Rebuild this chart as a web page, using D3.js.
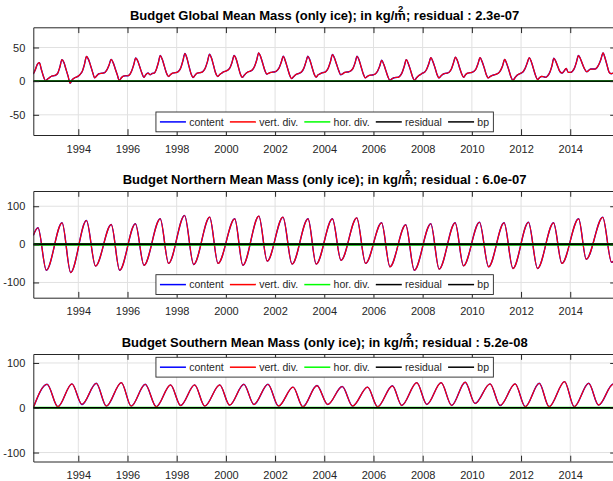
<!DOCTYPE html>
<html>
<head>
<meta charset="utf-8">
<script src="https://cdn.jsdelivr.net/npm/d3@7/dist/d3.min.js"></script>
<style>
  html, body { margin: 0; padding: 0; background: #fff; }
  svg { display: block; font-family: "Liberation Sans", Arial, Helvetica, sans-serif; }
</style>
</head>
<body>
<svg id="chart" width="613" height="481"></svg>
<script>
'use strict';

// ─── Data ─────────────────────────────────────────────────────────────────────
const xTicks  = [1994, 1996, 1998, 2000, 2002, 2004, 2006, 2008, 2010, 2012, 2014];
const xDomain = [1992.17, 2015.86];

const seriesNames  = ['content', 'vert. div.', 'hor. div.', 'residual', 'bp'];
const seriesColors = ['#0000ff', '#ff0000', '#00ff00', '#000000', '#000000'];

// Global mean mass, monthly from Mar 1992 (one row = Mar..Feb)
const globalStart = 1992.167;
const globalMass = [
  10.5, 17, 25, 27.5, 17, 7, 0.5, 3, 5.5, 7.5, 8, 9,
  12, 21, 32, 27.5, 17.5, 7.5, -3, 2, 4.5, 6, 7.5, 10.5,
  15, 25, 36.7, 32, 23, 13, 5, 8, 11, 11.5, 12, 13,
  17, 24, 32.4, 27.5, 18.5, 9.5, 1, 5, 7.5, 8, 8, 9.5,
  15, 24, 34.3, 30, 21, 12, 5.7, 10, 12, 9.5, 11.4, 12,
  17, 27, 38, 32, 22, 12, 7, 10, 12, 12.5, 13, 15,
  20, 30, 41, 34, 22, 11, 5.5, 9, 12, 12.5, 13, 15,
  20, 29, 40, 34, 23, 12, 7, 10, 12, 14, 15, 16.5,
  20, 28, 38, 33, 22, 11, 5.7, 9, 12, 14, 15, 17,
  22, 31, 42, 36, 26, 16, 10.5, 12, 13, 13.5, 14, 16,
  20, 28, 37, 30, 20, 10, 3.8, 6.5, 9.5, 11, 12, 14,
  19, 28, 37, 31, 21, 11, 6, 9.5, 11, 12.5, 13, 15,
  20, 29, 39.5, 34, 25, 16, 9.5, 11, 13, 13.5, 14, 15.5,
  19, 27, 37, 31, 21, 11, 4.8, 7, 8.6, 9, 9.5, 11,
  15, 22, 31, 25, 16, 7, 1, 3.5, 5, 5.5, 5.7, 8,
  13, 22, 32, 26, 17, 7, 1, 5, 8, 10, 12, 13.5,
  18, 26, 35, 29, 20, 10, 4.8, 8, 10.5, 11.5, 12, 13.5,
  18, 27, 35.7, 30, 20, 11, 5.7, 10, 12, 12.5, 13, 14.5,
  18, 26, 35, 29, 20, 10, 4.8, 7, 8.6, 9.5, 10.5, 12,
  16, 23, 32.4, 26, 17, 7, 1, 5, 8.6, 10.5, 12, 14,
  19, 27, 35, 29, 19, 9, 2.4, 5, 7, 6.5, 5.7, 8,
  13, 22, 34, 29, 21, 14, 12, 15, 19, 13, 13, 14.5,
  19, 28, 38, 33, 25, 18, 14, 16, 18, 18, 18, 20,
  25, 33, 42, 34, 23, 13, 11, 12, 12
];
const globalYears = globalMass.map((_, i) => globalStart + i / 12);

// Northern mean mass, turning points [year, value]
const northYears = [1992.17, 1992.36, 1992.70, 1993.34, 1993.69, 1994.33, 1994.70, 1995.34, 1995.68,
  1996.32, 1996.67, 1997.33, 1997.67, 1998.32, 1998.69, 1999.34, 1999.68, 2000.36, 2000.69,
  2001.34, 2001.68, 2002.32, 2002.69, 2003.34, 2003.67, 2004.33, 2004.68, 2005.32, 2005.68,
  2006.33, 2006.67, 2007.31, 2007.66, 2008.33, 2008.67, 2009.32, 2009.66, 2010.31, 2010.68,
  2011.31, 2011.67, 2012.30, 2012.67, 2013.32, 2013.66, 2014.34, 2014.65, 2015.32, 2015.68, 2015.86];
const northMass = [23.5, 43.5, -68, 56.5, -74, 62.6, -57, 52, -68,
  54, -55, 67, -50, 75.7, -53, 71.3, -50, 67, -55,
  74, -44, 71.3, -52, 67, -52, 67, -42, 69.6, -50,
  56.5, -59, 51.3, -68, 54, -65, 56.5, -56.5, 58, -59,
  56.5, -63.5, 58, -63.5, 56.5, -50, 67, -39, 71, -47, -35];

// Southern mean mass, turning points
const southYears = [1992.17, 1992.73, 1993.17, 1993.74, 1994.15, 1994.73, 1995.14, 1995.75, 1996.15,
  1996.72, 1997.17, 1997.75, 1998.16, 1998.73, 1999.14, 1999.75, 2000.15, 2000.73, 2001.14,
  2001.71, 2002.14, 2002.73, 2003.13, 2003.70, 2004.14, 2004.73, 2005.15, 2005.76, 2006.17,
  2006.77, 2007.15, 2007.76, 2008.17, 2008.75, 2009.18, 2009.73, 2010.13, 2010.74, 2011.15,
  2011.76, 2012.17, 2012.74, 2013.14, 2013.77, 2014.16, 2014.75, 2015.15, 2015.75, 2015.86];
const southMass = [0, 52.5, 2.2, 53.3, 7.3, 54.7, 3.6, 56.2, 3.6,
  52.5, 2.2, 51, 5, 51, 3.6, 51, 5.8, 52.5, 7.3,
  52.5, 3.6, 46, 2.2, 49.6, 7.3, 47.4, 3.6, 46, 2.2,
  49, 5, 56, 7.3, 56, 5, 57, 9.5, 53.3, 5,
  53.3, 2.2, 54.7, 2.2, 58.4, 2.2, 54.7, 5.8, 53, 50];

// hor. div., residual and bp stay on zero
const zeroYears = [1992.17, 2015.86];
const zeroMass  = [0, 0];

// ─── Layout ───────────────────────────────────────────────────────────────────
const plotLeft = 33.3, plotRight = 616;
const ink = '#262626', gridColor = '#e1e1e1';
const tickLen = 5.8;

const panels = [
  { name: 'Global',   resid: '2.3e-07', years: globalYears, mass: globalMass,
    yDomain: [-80, 80],   yTicks: [-50, 0, 50],   top: 27.3, bottom: 135,   legend: 'south', zeroW: [1.6, 1.1] },
  { name: 'Northern', resid: '6.0e-07', years: northYears,  mass: northMass,
    yDomain: [-140, 140], yTicks: [-100, 0, 100], top: 191,  bottom: 297.7, legend: 'south', zeroW: [2.8, 2] },
  { name: 'Southern', resid: '5.2e-08', years: southYears,  mass: southMass,
    yDomain: [-120, 120], yTicks: [-100, 0, 100], top: 354,  bottom: 461.5, legend: 'north', zeroW: [1.8, 1.3] },
];

const svg = d3.select('#chart');
const x = d3.scaleLinear().domain(xDomain).range([plotLeft, plotRight]);
const cxPlot = (plotLeft + plotRight) / 2;

// ─── Draw ─────────────────────────────────────────────────────────────────────
panels.forEach((p, i) => {
  const y = d3.scaleLinear().domain(p.yDomain).range([p.bottom, p.top]);
  const g = svg.append('g');

  const clipId = 'clip' + i;
  g.append('clipPath').attr('id', clipId).append('rect')
    .attr('x', plotLeft).attr('y', p.top)
    .attr('width', plotRight - plotLeft).attr('height', p.bottom - p.top);

  // grid
  g.append('g').selectAll('line').data(xTicks).join('line')
    .attr('x1', d => x(d)).attr('x2', d => x(d))
    .attr('y1', p.top).attr('y2', p.bottom)
    .attr('stroke', gridColor).attr('stroke-width', 1);
  g.append('g').selectAll('line').data(p.yTicks).join('line')
    .attr('x1', plotLeft).attr('x2', plotRight)
    .attr('y1', d => y(d)).attr('y2', d => y(d))
    .attr('stroke', gridColor).attr('stroke-width', 1);

  // series
  const line = d3.line().x(d => x(d[0])).y(d => y(d[1])).curve(d3.curveMonotoneX);
  const massPts = d3.zip(p.years, p.mass);
  const zeroPts = d3.zip(zeroYears, zeroMass);
  const series = [
    { pts: massPts, color: seriesColors[0], w: 1.4 },
    { pts: massPts, color: seriesColors[1], w: 1.2 },
    { pts: zeroPts, color: seriesColors[2], w: p.zeroW[0] },
    { pts: zeroPts, color: seriesColors[3], w: p.zeroW[1] },
    { pts: zeroPts, color: seriesColors[4], w: 0.8 },
  ];
  g.append('g').attr('clip-path', `url(#${clipId})`)
    .selectAll('path').data(series).join('path')
    .attr('d', s => line(s.pts))
    .attr('fill', 'none')
    .attr('stroke', s => s.color)
    .attr('stroke-width', s => s.w)
    .attr('stroke-linejoin', 'round');

  // axes (ticks point inward)
  const fmt = d => String(d);
  const axes = [
    [d3.axisBottom(x).tickValues(xTicks).tickFormat(fmt).tickPadding(10), `translate(0,${p.bottom})`],
    [d3.axisTop(x).tickValues(xTicks).tickFormat(''), `translate(0,${p.top})`],
    [d3.axisLeft(y).tickValues(p.yTicks).tickFormat(fmt).tickPadding(8), `translate(${plotLeft},0)`],
    [d3.axisRight(y).tickValues(p.yTicks).tickFormat(''), `translate(${plotRight},0)`],
  ];
  axes.forEach(([ax, tr]) => {
    const a = g.append('g').attr('transform', tr)
      .call(ax.tickSizeInner(-tickLen).tickSizeOuter(0));
    a.attr('font-family', null).attr('font-size', null);
    a.select('.domain').attr('stroke', ink).attr('stroke-width', 1);
    a.selectAll('.tick line').attr('stroke', ink).attr('stroke-width', 1);
    a.selectAll('.tick text').attr('fill', ink).attr('font-size', 11);
  });

  // title, with the superscript sitting over the "m"
  const title = g.append('text')
    .attr('x', cxPlot).attr('y', p.top - 7)
    .attr('text-anchor', 'middle')
    .attr('font-weight', 'bold').attr('font-size', 13).attr('fill', '#000');
  title.append('tspan').text(`Budget ${p.name} Mean Mass (only ice); in kg/m`);
  title.append('tspan').attr('dx', -8).attr('dy', -8.5).attr('font-size', 9.5).text('2');
  title.append('tspan').attr('dx', 2.7).attr('dy', 8.5).text(`; residual : ${p.resid}`);

  // legend
  const lgH = 19.8;
  const lg = g.append('g');
  const box = lg.append('rect')
    .attr('fill', '#fff').attr('stroke', ink).attr('stroke-width', 0.9);
  const items = lg.append('g').attr('transform', `translate(0,${lgH / 2})`);
  let cur = 4;
  seriesNames.forEach((name, k) => {
    items.append('line')
      .attr('x1', cur).attr('x2', cur + 26).attr('y1', 0).attr('y2', 0)
      .attr('stroke', seriesColors[k]).attr('stroke-width', 1.5);
    const tx = items.append('text')
      .attr('x', cur + 29.3).attr('y', 3.8)
      .attr('font-size', 10.5).attr('fill', ink)
      .text(name);
    cur += 29.3 + tx.node().getComputedTextLength() + 6.2;
  });
  const lgW = cur - 6.2 + 4.3;
  box.attr('width', lgW).attr('height', lgH);
  const lgTop = p.legend === 'south' ? p.bottom - 3.2 - lgH : p.top + 3.3;
  lg.attr('transform', `translate(${cxPlot - lgW / 2},${lgTop})`);
});
</script>
</body>
</html>
